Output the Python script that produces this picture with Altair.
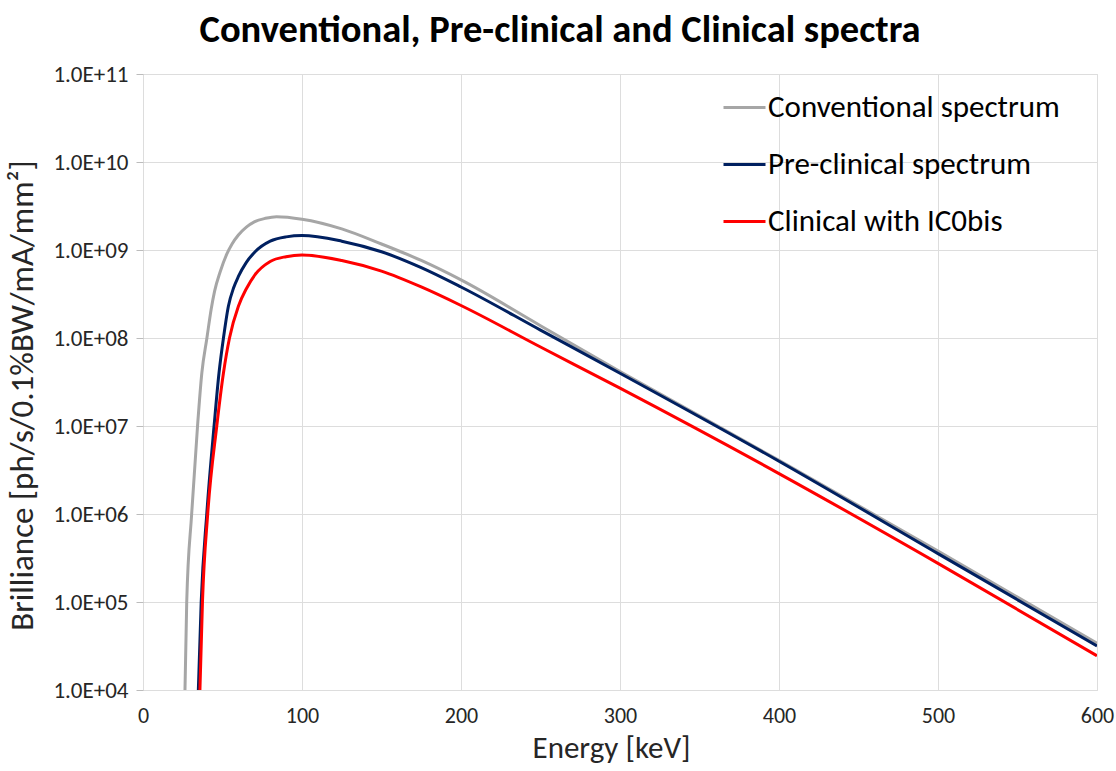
import altair as alt
import pandas as pd

FONT = "Carlito, Lato, sans-serif"

series_names = ["Conventional spectrum", "Pre-clinical spectrum", "Clinical with IC0bis"]
series_colors = ["#a6a6a6", "#002060", "#ff0000"]

conv_E = [26.4, 27.5, 30.6, 34.3, 37.0, 40.2, 42.9, 45, 48.5, 52.6, 56, 60, 65, 70, 77, 84,
          100, 125, 150, 175, 200, 250, 300, 400, 500, 600]
conv_B = [1.0e4, 1.0e5, 1.0e6, 1.0e7, 4.0e7, 1.0e8, 2.14e8, 3.39e8, 5.62e8, 8.9e8, 1.17e9, 1.48e9,
          1.82e9, 2.09e9, 2.29e9, 2.39e9,
          2.24e9, 1.74e9, 1.17e9, 7.6e8, 4.57e8, 1.38e8, 4.17e7, 4.07e6, 3.8e5, 3.39e4]

pre_E = [34.8, 36.6, 40.1, 44.7, 47.8, 50.6, 53.7, 57, 60, 65, 70.5, 80, 90, 100,
         125, 150, 175, 200, 250, 300, 400, 500, 600]
pre_B = [1.0e4, 1.0e5, 1.0e6, 1.0e7, 4.0e7, 1.0e8, 2.3e8, 3.72e8, 5.0e8, 7.24e8, 9.55e8, 1.26e9, 1.41e9, 1.46e9,
         1.26e9, 9.55e8, 6.3e8, 3.8e8, 1.23e8, 3.98e7, 3.98e6, 3.55e5, 3.16e4]

clin_E = [35.8, 37.4, 40.7, 46.4, 50.6, 54.4, 60, 65, 70.5, 80, 90, 100,
          125, 150, 175, 200, 250, 300, 400, 500, 600]
clin_B = [1.0e4, 1.0e5, 1.0e6, 1.0e7, 4.0e7, 1.0e8, 2.3e8, 3.63e8, 5.25e8, 7.4e8, 8.4e8, 8.77e8,
          7.6e8, 5.75e8, 3.8e8, 2.34e8, 7.9e7, 2.69e7, 2.88e6, 2.75e5, 2.45e4]

x_ticks = [0, 100, 200, 300, 400, 500, 600]
y_ticks = [1e4, 1e5, 1e6, 1e7, 1e8, 1e9, 1e10, 1e11]

rows = []
for name, es, bs in zip(series_names, [conv_E, pre_E, clin_E], [conv_B, pre_B, clin_B]):
    for i, (e, b) in enumerate(zip(es, bs)):
        rows.append({"series": name, "E": e, "B": b, "i": i})
df = pd.DataFrame(rows)

label_expr = ("'1.0E+' + (round(log(datum.value)/LN10) < 10 ? '0' : '') + round(log(datum.value)/LN10)")

chart = alt.Chart(df).mark_line(strokeWidth=3, interpolate="monotone", clip=True).encode(
    x=alt.X("E:Q", scale=alt.Scale(domain=[0, 600], nice=False),
            axis=alt.Axis(values=x_ticks, title="Energy [keV]", grid=True, ticks=False, domain=False,
                          labelFlush=False, labelOverlap=False,
                          labelFontSize=22, labelPadding=15, labelFont=FONT, labelColor="#262626",
                          titleFont=FONT, titleFontSize=31, titleFontWeight="normal", titleColor="#262626",
                          titleX=468, titleY=58, titleBaseline="middle")),
    y=alt.Y("B:Q", scale=alt.Scale(type="log", domain=[1e4, 1e11], nice=False),
            axis=alt.Axis(values=y_ticks, title="Brilliance [ph/s/0.1%BW/mA/mm\u00b2]", grid=True,
                          labelExpr=label_expr, tickSize=7, tickColor="#bcbcbc", domain=False,
                          labelFlush=False, labelOverlap=False,
                          labelFontSize=23, labelPadding=8, labelFont=FONT, labelColor="#262626",
                          titleFont=FONT, titleFontSize=33, titleFontWeight="normal", titleColor="#262626",
                          titleX=-121, titleY=321, titleAngle=-90, titleAlign="center",
                          titleBaseline="middle")),
    color=alt.Color("series:N", scale=alt.Scale(domain=series_names, range=series_colors),
                    sort=series_names,
                    legend=alt.Legend(title=None, orient="none", legendX=579, legendY=11,
                                      symbolType="stroke", symbolSize=1764, symbolStrokeWidth=3,
                                      labelFont=FONT, labelFontSize=31, labelColor="#000000",
                                      labelLimit=0, labelOffset=1, rowPadding=19)),
    order=alt.Order("i:Q"),
    detail="series:N",
).properties(
    width=954,
    height=616,
    title=alt.Title("Conventional, Pre-clinical and Clinical spectra", font=FONT, fontSize=38.5,
                    fontWeight="bold", color="#000000", anchor="middle", dx=-60, offset=13),
    autosize=alt.AutoSizeParams(type="none"),
    padding={"left": 143, "top": 74, "right": 19, "bottom": 81},
).configure_axis(
    gridColor="#bcbcbc", gridWidth=2,
).configure_view(
    stroke="#bcbcbc", strokeWidth=2,
).configure(background="white")

chart.save("out.html", embed_options={"renderer": "svg", "actions": False})
